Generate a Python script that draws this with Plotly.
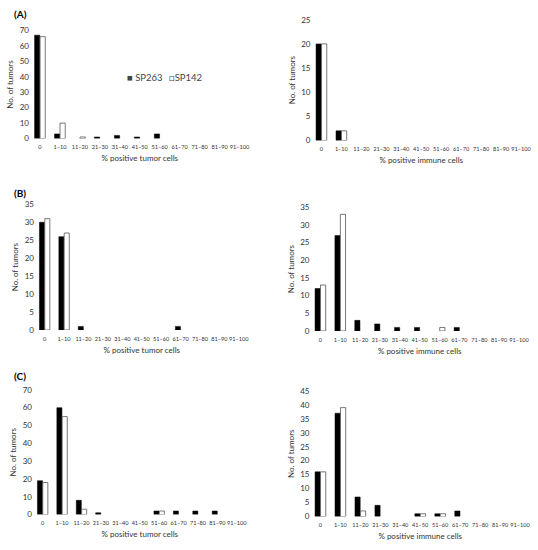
import plotly.graph_objects as go

W, H = 538, 550

categories = ["0", "1–10", "11–20", "21–30", "31–40", "41–50",
              "51–60", "61–70", "71–80", "81–90", "91–100"]

# panel A
a_tumor_sp263 = [67, 3, 0, 1, 2, 1, 3, 0, 0, 0, 0]
a_tumor_sp142 = [66, 10, 1, 0, 0, 0, 0, 0, 0, 0, 0]
a_immune_sp263 = [20, 2, 0, 0, 0, 0, 0, 0, 0, 0, 0]
a_immune_sp142 = [20, 2, 0, 0, 0, 0, 0, 0, 0, 0, 0]
# panel B
b_tumor_sp263 = [30, 26, 1, 0, 0, 0, 0, 1, 0, 0, 0]
b_tumor_sp142 = [31, 27, 0, 0, 0, 0, 0, 0, 0, 0, 0]
b_immune_sp263 = [12, 27, 3, 2, 1, 1, 0, 1, 0, 0, 0]
b_immune_sp142 = [13, 33, 0, 0, 0, 0, 1, 0, 0, 0, 0]
# panel C
c_tumor_sp263 = [19, 60, 8, 1, 0, 0, 2, 2, 2, 2, 0]
c_tumor_sp142 = [18, 55, 3, 0, 0, 0, 2, 0, 0, 0, 0]
c_immune_sp263 = [16, 37, 7, 4, 0, 1, 1, 2, 0, 0, 0]
c_immune_sp142 = [16, 39, 2, 0, 0, 1, 1, 0, 0, 0, 0]

panel_labels = ["(A)", "(B)", "(C)"]

# (data, y max, y step, x px domain, y px domain, x title)
panels = [
    (a_tumor_sp263, a_tumor_sp142, 70, 10, (30, 250), (26, 136), "% positive tumor cells"),
    (a_immune_sp263, a_immune_sp142, 25, 5, (312, 532), (15, 138), "% positive immune cells"),
    (b_tumor_sp263, b_tumor_sp142, 35, 5, (35, 249), (203, 331), "% positive tumor cells"),
    (b_immune_sp263, b_immune_sp142, 35, 5, (311, 530), (206, 332), "% positive immune cells"),
    (c_tumor_sp263, c_tumor_sp142, 70, 10, (33, 247), (392, 519), "% positive tumor cells"),
    (c_immune_sp263, c_immune_sp142, 45, 5, (311, 531), (393, 521), "% positive immune cells"),
]

fnt = "Lato, Liberation Sans, sans-serif"


def nz(vals):
    # zero counts draw no bar at all in the original
    return [v if v else None for v in vals]


fig = go.Figure()
layout = {}

for i, (s263, s142, ymax, step, xd, yd, xtitle) in enumerate(panels):
    n = "" if i == 0 else str(i + 1)
    fig.add_trace(go.Bar(x=categories, y=nz(s263), name="SP263", xaxis="x" + n, yaxis="y" + n,
                         marker=dict(color="black", line=dict(color="black", width=0.5))))
    fig.add_trace(go.Bar(x=categories, y=nz(s142), name="SP142", xaxis="x" + n, yaxis="y" + n,
                         marker=dict(color="white", line=dict(color="#555555", width=0.8))))
    layout["xaxis" + n] = dict(
        domain=[xd[0] / W, xd[1] / W], anchor="y" + n,
        showline=False, ticks="", showgrid=False,
        tickfont=dict(size=5.6, color="#333"),
        tickangle=0, ticklabelstandoff=4,
        title=dict(text=xtitle, font=dict(size=8, color="#333"), standoff=6),
    )
    layout["yaxis" + n] = dict(
        domain=[1 - yd[1] / H, 1 - yd[0] / H], anchor="x" + n,
        range=[0, ymax], dtick=step, showgrid=False, showline=False, ticks="",
        zeroline=False,
        tickfont=dict(size=8, color="#333"),
        title=dict(text="No. of tumors", font=dict(size=8, color="#333"), standoff=4),
    )

ann = []
for lab, y in zip(panel_labels, [9, 191, 378]):
    ann.append(dict(text="<b>" + lab + "</b>", x=12 / W, y=1 - y / H, xref="paper", yref="paper",
                    xanchor="left", yanchor="middle", showarrow=False,
                    font=dict(size=10, color="black", family=fnt)))
# legend as in the original: small squares right against the names
ann.append(dict(text="■ SP263", x=125 / W, y=1 - 74 / H, xref="paper", yref="paper",
                xanchor="left", yanchor="middle", showarrow=False,
                font=dict(size=9.5, color="#444", family=fnt)))
ann.append(dict(text="□SP142", x=167 / W, y=1 - 74 / H, xref="paper", yref="paper",
                xanchor="left", yanchor="middle", showarrow=False,
                font=dict(size=9.5, color="#444", family=fnt)))

fig.update_layout(
    width=W, height=H,
    margin=dict(l=0, r=0, t=0, b=0),
    paper_bgcolor="white", plot_bgcolor="white",
    font=dict(family=fnt),
    barmode="group", bargap=0.45, bargroupgap=0.05,
    showlegend=False,
    annotations=ann,
    **layout,
)

# the page's default body margin would push the figure 8px off the window
fig.write_html("out.html", config={"displayModeBar": False},
               post_script="document.body.style.margin='0';")
